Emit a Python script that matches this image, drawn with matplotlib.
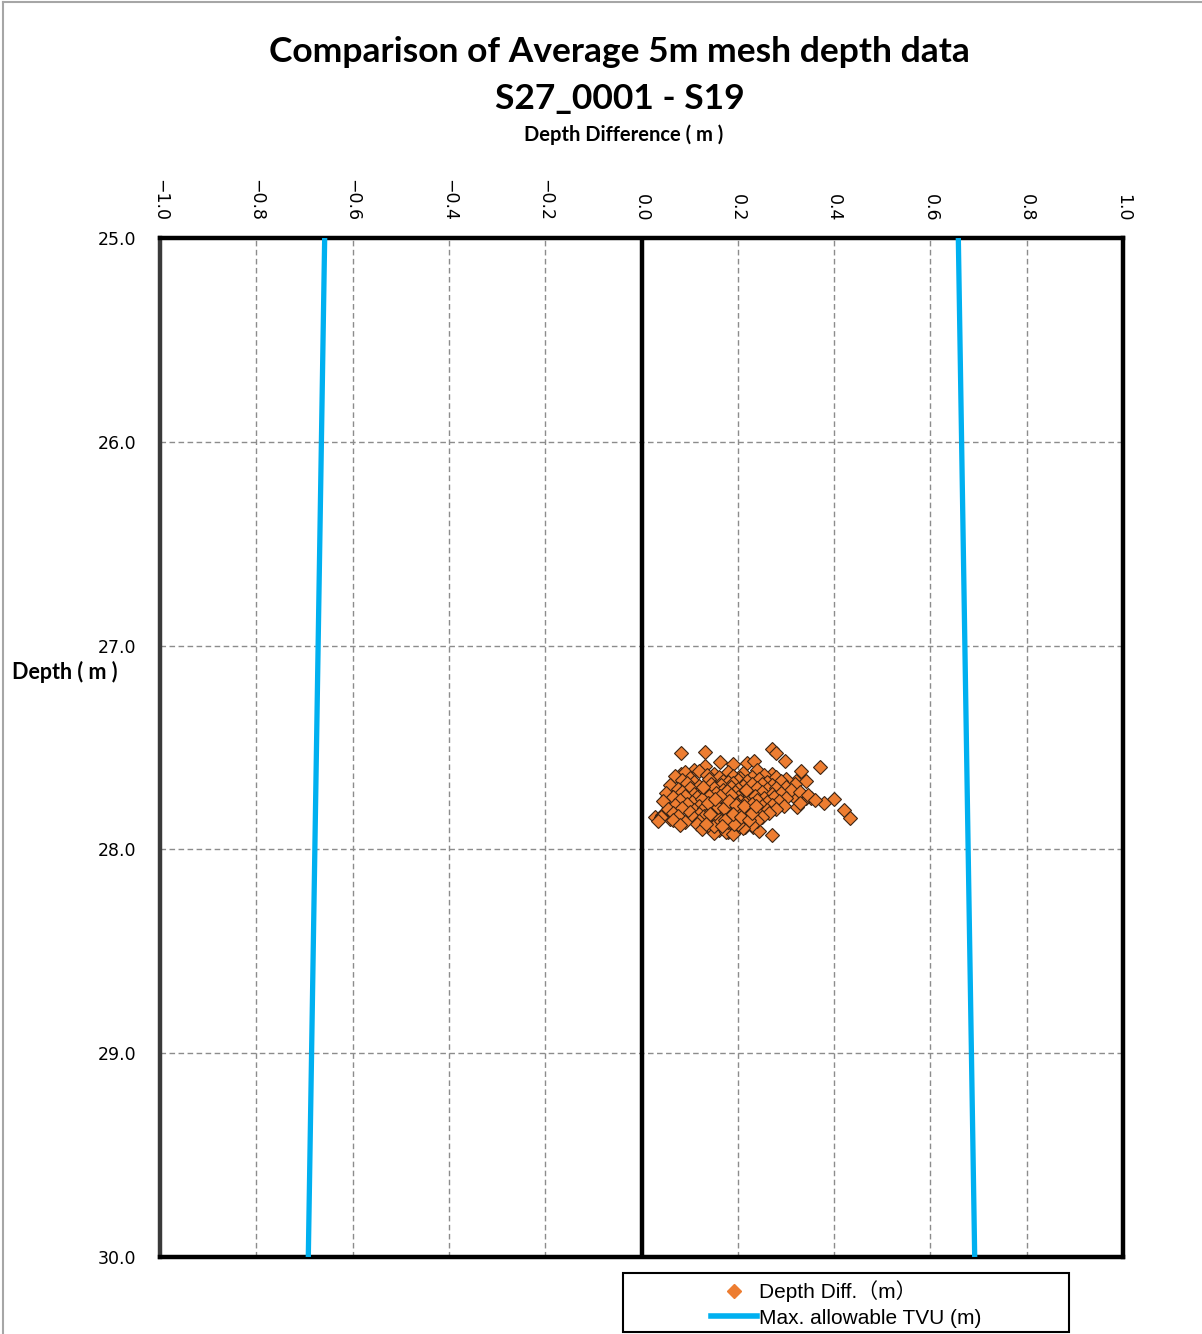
import matplotlib
matplotlib.use("Agg")
import matplotlib.pyplot as plt
from matplotlib.lines import Line2D
from matplotlib.patches import Rectangle

# ---- data -------------------------------------------------------------
# Depth difference (m) between the two surveys and the mean depth (m) of each 5 m cell
diff_m = [
    0.081, 0.131, 0.270, 0.280, 0.299, 0.370, 0.332, 0.320, 0.341, 0.318,
    0.399, 0.380, 0.420, 0.432, 0.270, 0.029, 0.042, 0.060, 0.164, 0.191,
    0.220, 0.233, 0.110, 0.131, 0.081, 0.052, 0.060, 0.071, 0.353, 0.341,
    0.299, 0.314, 0.322, 0.231, 0.245, 0.179,
    0.090, 0.120, 0.150, 0.180, 0.210, 0.240, 0.270,
    0.070, 0.100, 0.135, 0.160, 0.190, 0.205, 0.230, 0.255, 0.280, 0.300,
    0.085, 0.110, 0.140, 0.170, 0.180, 0.200, 0.220, 0.245, 0.260, 0.290,
    0.060, 0.095, 0.120, 0.145, 0.165, 0.190, 0.210, 0.230, 0.250, 0.270, 0.300,
    0.075, 0.100, 0.125, 0.150, 0.170, 0.185, 0.200, 0.215, 0.240, 0.260, 0.280, 0.310, 0.330,
    0.050, 0.085, 0.110, 0.130, 0.155, 0.175, 0.195, 0.210, 0.225, 0.250, 0.270, 0.290, 0.345,
    0.065, 0.090, 0.115, 0.140, 0.160, 0.180, 0.200, 0.220, 0.235, 0.255, 0.275, 0.300, 0.360,
    0.045, 0.080, 0.105, 0.125, 0.150, 0.170, 0.190, 0.205, 0.215, 0.240, 0.260, 0.285, 0.330,
    0.070, 0.095, 0.120, 0.140, 0.160, 0.175, 0.195, 0.210, 0.230, 0.250, 0.270, 0.295,
    0.055, 0.085, 0.110, 0.130, 0.150, 0.165, 0.180, 0.200, 0.220, 0.240, 0.260, 0.280,
    0.065, 0.100, 0.120, 0.140, 0.155, 0.170, 0.190, 0.210, 0.225, 0.245, 0.265,
    0.040, 0.075, 0.110, 0.130, 0.150, 0.165, 0.180, 0.195, 0.215, 0.235, 0.250,
    0.035, 0.065, 0.090, 0.120, 0.140, 0.160, 0.175, 0.190, 0.205, 0.220, 0.240,
    0.080, 0.115, 0.135, 0.155, 0.170, 0.185, 0.200, 0.215, 0.230,
    0.125, 0.145, 0.160, 0.180, 0.195, 0.210,
    0.150, 0.175, 0.190,
    0.145, 0.165, 0.185, 0.205, 0.160, 0.180, 0.200, 0.170, 0.190, 0.150,
    0.172, 0.188, 0.196, 0.158, 0.176, 0.183, 0.199, 0.166, 0.192, 0.178,
    0.186, 0.171, 0.203, 0.162, 0.181, 0.197, 0.174, 0.189, 0.168, 0.206,
    0.138, 0.152, 0.213, 0.224, 0.143, 0.218, 0.229, 0.133, 0.238, 0.128,
]
depth_m = [
    27.529, 27.520, 27.505, 27.525, 27.564, 27.598, 27.613, 27.662, 27.662, 27.681,
    27.755, 27.770, 27.809, 27.848, 27.931, 27.843, 27.833, 27.853, 27.569, 27.583,
    27.574, 27.564, 27.608, 27.593, 27.632, 27.745, 27.721, 27.760, 27.750, 27.750,
    27.721, 27.740, 27.794, 27.892, 27.912, 27.917,
    27.622, 27.615, 27.628, 27.619, 27.625, 27.612, 27.631,
    27.641, 27.648, 27.636, 27.644, 27.639, 27.652, 27.643, 27.637, 27.646, 27.655,
    27.661, 27.668, 27.657, 27.664, 27.671, 27.659, 27.666, 27.654, 27.669, 27.662,
    27.683, 27.676, 27.688, 27.679, 27.685, 27.674, 27.690, 27.681, 27.677, 27.686, 27.694,
    27.702, 27.697, 27.705, 27.699, 27.708, 27.695, 27.703, 27.711, 27.698, 27.706, 27.701, 27.709, 27.716,
    27.721, 27.718, 27.726, 27.715, 27.723, 27.729, 27.717, 27.724, 27.731, 27.719, 27.727, 27.722, 27.735,
    27.742, 27.737, 27.745, 27.739, 27.748, 27.736, 27.743, 27.751, 27.738, 27.746, 27.741, 27.749, 27.756,
    27.761, 27.758, 27.766, 27.755, 27.763, 27.769, 27.757, 27.764, 27.771, 27.759, 27.767, 27.762, 27.774,
    27.782, 27.777, 27.785, 27.779, 27.788, 27.776, 27.783, 27.791, 27.778, 27.786, 27.781, 27.789,
    27.801, 27.797, 27.806, 27.795, 27.803, 27.809, 27.798, 27.804, 27.811, 27.799, 27.807, 27.802,
    27.821, 27.817, 27.825, 27.819, 27.828, 27.816, 27.823, 27.831, 27.818, 27.826, 27.822,
    27.842, 27.838, 27.845, 27.836, 27.848, 27.839, 27.843, 27.851, 27.837, 27.846, 27.841,
    27.862, 27.857, 27.865, 27.859, 27.867, 27.855, 27.863, 27.871, 27.858, 27.866, 27.861,
    27.881, 27.877, 27.885, 27.879, 27.888, 27.876, 27.883, 27.891, 27.878,
    27.901, 27.897, 27.905, 27.899, 27.908, 27.896,
    27.921, 27.917, 27.925,
    27.812, 27.833, 27.815, 27.836, 27.852, 27.868, 27.873, 27.794, 27.812, 27.884,
    27.728, 27.752, 27.774, 27.792, 27.806, 27.829, 27.846, 27.861, 27.875, 27.713,
    27.734, 27.797, 27.818, 27.739, 27.762, 27.784, 27.856, 27.827, 27.887, 27.843,
    27.771, 27.753, 27.789, 27.856, 27.827, 27.708, 27.821, 27.873, 27.786, 27.694,
]

# Maximum allowable TVU (m) at the top and bottom of the depth range
tvu_depth = [25.0, 30.0]
tvu_limit = [0.658, 0.692]

title_lines = ["Comparison of Average 5m mesh depth data", "S27_0001 - S19"]
x_ticks = [-1.0, -0.8, -0.6, -0.4, -0.2, 0.0, 0.2, 0.4, 0.6, 0.8, 1.0]
y_ticks = [25.0, 26.0, 27.0, 28.0, 29.0, 30.0]
legend_labels = ["Depth Diff.\uff08m\uff09", "Max. allowable TVU (m)"]

# ---- figure -----------------------------------------------------------
W, H = 1202, 1334
fig = plt.figure(figsize=(W / 100, H / 100), dpi=100)

# outer chart-area border (left and top edges)
fig.add_artist(Line2D([3 / W, 3 / W], [0, 1 - 2 / H], color="#a6a6a6", lw=1.5))
fig.add_artist(Line2D([3 / W, 1], [1 - 2 / H, 1 - 2 / H], color="#a6a6a6", lw=1.5))

ax = fig.add_axes([160 / W, 1 - 1257 / H, (1123 - 160) / W, (1257 - 238) / H])
ax.set_xlim(-1.0, 1.0)
ax.set_ylim(30.0, 25.0)
ax.set_xticks(x_ticks)
ax.set_yticks(y_ticks)
ax.set_xticklabels([f"{v:.1f}".replace("-", "\u2212") for v in x_ticks],
                   rotation=-90, fontsize=12.5, family="DejaVu Sans")
ax.set_yticklabels([f"{v:.1f}" for v in y_ticks], fontsize=12.5, family="DejaVu Sans")
ax.xaxis.tick_top()
ax.tick_params(axis="both", length=0)
ax.tick_params(axis="x", pad=12)
ax.tick_params(axis="y", pad=17)

ax.grid(True, color="#8c8c8c", linestyle=(0, (4, 2.5)), linewidth=1.0)
ax.set_axisbelow(True)

for side, sp in ax.spines.items():
    sp.set_linewidth(3.2)
    sp.set_color("black")
ax.spines["left"].set_color("#3a3a3a")

# zero-difference axis
ax.axvline(0.0, color="black", lw=3.2, zorder=2)

# TVU limits on both sides
tvu_line, = ax.plot(tvu_limit, tvu_depth, color="#00b0f0", lw=3.8, zorder=3,
                    solid_capstyle="butt")
ax.plot([-v for v in tvu_limit], tvu_depth, color="#00b0f0", lw=3.8, zorder=3,
        solid_capstyle="butt")

pts, = ax.plot(diff_m, depth_m, linestyle="none", marker="D", markersize=7.2,
               markerfacecolor="#ed7d31", markeredgecolor="#3b2414",
               markeredgewidth=0.8, zorder=4)

# titles and axis names
fig.text(0.5155, 1 - 52 / H, title_lines[0], ha="center", va="center",
         fontsize=25.5, fontweight="bold", family="Lato")
fig.text(0.5155, 1 - 99 / H, title_lines[1], ha="center", va="center",
         fontsize=25.5, fontweight="bold", family="Lato")
fig.text(0.5185, 1 - 135 / H, "Depth Difference ( m )", ha="center",
         va="center", fontsize=14.5, fontweight="bold", family="Lato")
fig.text(12 / W, 1 - 672 / H, "Depth ( m )", ha="left", va="center",
         fontsize=15.5, fontweight="bold", family="Lato")

# legend: frame drawn as a figure rectangle, entries centred inside it
fig.add_artist(Rectangle((623 / W, 1 - 1332 / H), (1069 - 623) / W, (1332 - 1273) / H,
                         transform=fig.transFigure, facecolor="white",
                         edgecolor="black", lw=1.5, zorder=5))
leg_marker = Line2D([], [], linestyle="none", marker="D", markersize=7,
                    markerfacecolor="#ed7d31", markeredgecolor="#ed7d31")
leg_line = Line2D([], [], color="#00b0f0", lw=4)
leg = fig.legend([leg_marker, leg_line], legend_labels,
                 loc="center", bbox_to_anchor=(846 / W, 1 - 1304 / H),
                 frameon=False, borderaxespad=0, handlelength=2.2, handletextpad=0.1,
                 borderpad=0.0, labelspacing=0.3,
                 prop={"family": ["Liberation Sans", "Noto Sans CJK SC"], "size": 15})
leg.set_zorder(6)

fig.savefig("out.png", dpi=100)
